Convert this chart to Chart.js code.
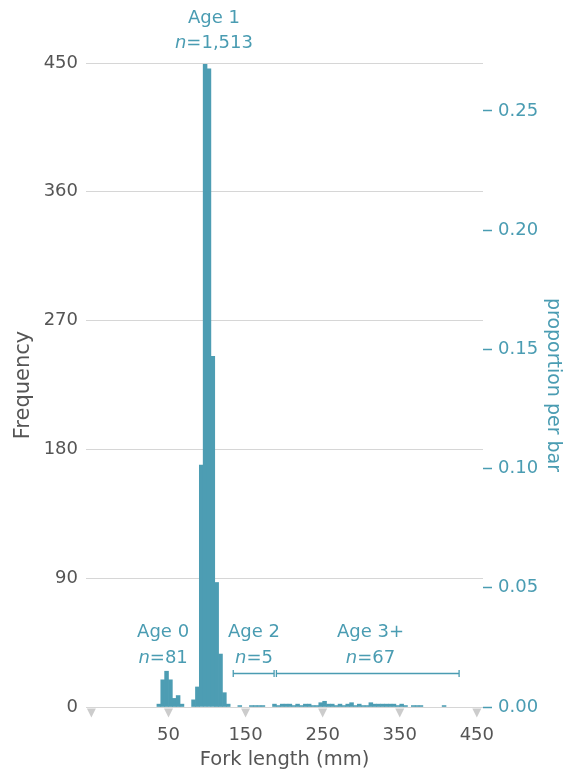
<!DOCTYPE html>
<html>
<head>
<meta charset="utf-8">
<script src="https://cdn.jsdelivr.net/npm/chart.js@4/dist/chart.umd.min.js"></script>
<style>
  html, body { margin: 0; padding: 0; background: #ffffff; }
  canvas { display: block; }
</style>
</head>
<body>
<canvas id="chart" width="567" height="774"></canvas>
<script>
// ---- data (5 mm bins, value = bin start in mm) ----
const binStarts = [
  35, 40, 45, 50, 55, 60, 65,
  80, 85, 90, 95, 100, 105, 110, 115, 120, 125,
  140, 155, 160, 165, 170,
  185, 190, 195, 200, 205, 210, 215, 220,
  225, 230, 235, 240, 245, 250, 255, 260,
  265, 270, 275, 280, 285, 290, 295, 300,
  305, 310, 315, 320, 325, 330, 335, 340,
  345, 350, 355, 365, 370, 375, 405
];
const frequencies = [
  2, 19, 25, 19, 6, 8, 2,
  5, 14, 169, 449, 446, 245, 87, 37, 10, 2,
  1, 1, 1, 1, 1,
  2, 1, 2, 2, 2, 1, 2, 1,
  2, 2, 1, 1, 3, 4, 2, 2,
  1, 2, 1, 2, 3, 1, 2, 1,
  1, 3, 2, 2, 2, 2, 2, 2,
  1, 2, 1, 1, 1, 1, 1
];
const binWidth = 5;
const totalN = 1666;

const xTickValues = [-50, 50, 150, 250, 350, 450];
const xHiddenTicks = [-50];
const yTickValues = [0, 90, 180, 270, 360, 450];
const proportionTicks = [0, 0.05, 0.10, 0.15, 0.20, 0.25];

const groupNames = ['Age 0', 'Age 1', 'Age 2', 'Age 3+'];
const groupCounts = ['81', '1,513', '5', '67'];
const groupCentres = [43, 109, 161, 312];
const groupBrackets = [null, null, [134, 187], [190, 427]];

// ---- styles / layout ----
const TEAL = '#4d9db3';
const TEXT_TEAL = '#4a9cb2';
const GREY_TEXT = '#555555';
const GRID = '#d6d6d6';
const FONT = '"DejaVu Sans", sans-serif';
const annotationLevels = { name: 52, count: 34, bracket: 24, topName: 481, topCount: 464 };

const barData = binStarts.map((s, i) => ({ x: s + binWidth / 2, y: frequencies[i] }));

const triangles = {
  id: 'triangles',
  afterDraw(chart) {
    const ctx = chart.ctx;
    const xs = chart.scales.x;
    const y0 = chart.chartArea.bottom + 1.5;
    ctx.save();
    ctx.fillStyle = '#cccccc';
    xs.ticks.forEach(t => {
      const px = xs.getPixelForValue(t.value);
      ctx.beginPath();
      ctx.moveTo(px - 4.5, y0);
      ctx.lineTo(px + 4.5, y0);
      ctx.lineTo(px, y0 + 9);
      ctx.closePath();
      ctx.fill();
    });
    ctx.restore();
  }
};

const annotations = {
  id: 'annotations',
  afterDraw(chart) {
    const ctx = chart.ctx;
    const xs = chart.scales.x;
    const ys = chart.scales.y;
    ctx.save();
    ctx.fillStyle = TEXT_TEAL;
    ctx.strokeStyle = TEXT_TEAL;
    ctx.textBaseline = 'middle';
    const fontSize = 18;
    groupNames.forEach((name, i) => {
      const cx = xs.getPixelForValue(groupCentres[i]);
      const isTop = i === 1;
      const nameY = ys.getPixelForValue(isTop ? annotationLevels.topName : annotationLevels.name);
      const countY = ys.getPixelForValue(isTop ? annotationLevels.topCount : annotationLevels.count);
      ctx.font = fontSize + 'px ' + FONT;
      ctx.textAlign = 'center';
      ctx.fillText(name, cx, nameY);
      const italicFont = 'italic ' + fontSize + 'px ' + FONT;
      const normalFont = fontSize + 'px ' + FONT;
      ctx.font = italicFont;
      const wN = ctx.measureText('n').width;
      ctx.font = normalFont;
      const rest = '=' + groupCounts[i];
      const wR = ctx.measureText(rest).width;
      const startX = cx - (wN + wR) / 2;
      ctx.textAlign = 'left';
      ctx.font = italicFont;
      ctx.fillText('n', startX, countY);
      ctx.font = normalFont;
      ctx.fillText(rest, startX + wN, countY);
      const br = groupBrackets[i];
      if (br) {
        const by = Math.round(ys.getPixelForValue(annotationLevels.bracket)) + 0.5;
        const x1 = xs.getPixelForValue(br[0]);
        const x2 = xs.getPixelForValue(br[1]);
        ctx.lineWidth = 1.3;
        ctx.beginPath();
        ctx.moveTo(x1, by); ctx.lineTo(x2, by);
        ctx.moveTo(x1, by - 3.5); ctx.lineTo(x1, by + 3.5);
        ctx.moveTo(x2, by - 3.5); ctx.lineTo(x2, by + 3.5);
        ctx.stroke();
      }
    });
    ctx.restore();
  }
};

new Chart(document.getElementById('chart'), {
  type: 'bar',
  data: {
    datasets: [{
      data: barData,
      backgroundColor: TEAL,
      borderWidth: 0,
      barPercentage: 1,
      categoryPercentage: 1,
      yAxisID: 'y'
    }]
  },
  options: {
    responsive: false,
    animation: false,
    devicePixelRatio: 1,
    layout: { padding: { top: 63, left: 0, right: 0, bottom: 0 } },
    plugins: { legend: { display: false }, tooltip: { enabled: false } },
    scales: {
      x: {
        type: 'linear',
        offset: false,
        min: -57,
        max: 458,
        grid: { display: false },
        border: { display: false },
        afterBuildTicks: s => { s.ticks = xTickValues.map(v => ({ value: v })); },
        afterFit: s => { s.height = 67; },
        ticks: {
          color: GREY_TEXT,
          font: { family: FONT, size: 18 },
          padding: 10,
          maxRotation: 0,
          autoSkip: false,
          callback: v => xHiddenTicks.includes(v) ? '' : String(v)
        },
        title: {
          display: true,
          text: 'Fork length (mm)',
          color: GREY_TEXT,
          font: { family: FONT, size: 19.5 },
          padding: { top: 0, bottom: 2 }
        }
      },
      y: {
        type: 'linear',
        position: 'left',
        min: 0,
        max: 450,
        grid: { color: GRID, drawTicks: false, lineWidth: 1 },
        border: { display: false },
        afterBuildTicks: s => { s.ticks = yTickValues.map(v => ({ value: v })); },
        afterFit: s => { s.width = 86; },
        ticks: {
          color: GREY_TEXT,
          font: { family: FONT, size: 18 },
          padding: 8
        },
        title: {
          display: true,
          text: 'Frequency',
          color: GREY_TEXT,
          font: { family: FONT, size: 21 },
          padding: { top: 11, bottom: 0 }
        }
      },
      y2: {
        type: 'linear',
        position: 'right',
        min: 0,
        max: 450 / totalN,
        grid: { drawOnChartArea: false, drawTicks: true, tickLength: 9, tickColor: TEXT_TEAL, tickWidth: 1.5 },
        border: { display: false },
        afterBuildTicks: s => { s.ticks = proportionTicks.map(v => ({ value: v })); },
        afterFit: s => { s.width = 84; },
        ticks: {
          color: TEXT_TEAL,
          font: { family: FONT, size: 18 },
          padding: 6,
          callback: v => Number(v).toFixed(2)
        },
        title: {
          display: true,
          text: 'proportion per bar',
          color: TEXT_TEAL,
          font: { family: FONT, size: 19 },
          padding: { top: 3, bottom: 0 }
        }
      }
    }
  },
  plugins: [triangles, annotations]
});
</script>
</body>
</html>
